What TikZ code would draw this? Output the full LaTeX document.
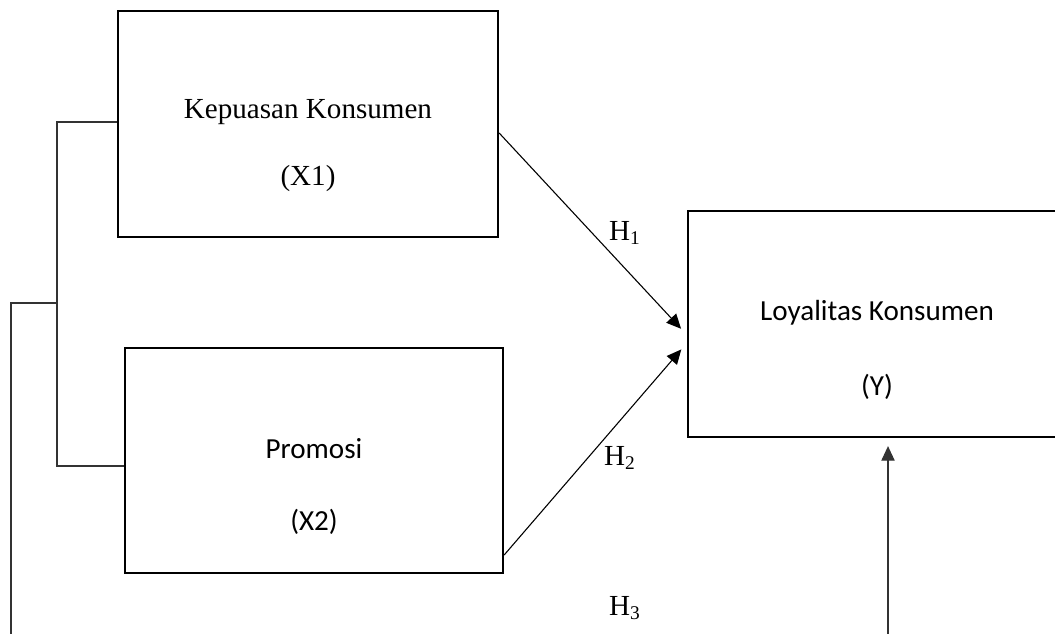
\documentclass[tikz,border=0pt]{standalone}
\usepackage{fontspec}
\setmainfont{Liberation Serif}
\newfontfamily\calibrifont{Carlito}
\usetikzlibrary{arrows.meta}

\begin{document}
\begin{tikzpicture}[x=0.0145cm,y=-0.0145cm,
  kotak/.style={draw,line width=0.9pt,inner sep=0pt},
  garis/.style={line width=0.45pt,black!80},
  panah/.style={line width=0.45pt,-{Triangle[length=6pt,width=5.5pt]},shorten >=3.5pt},
  teksserif/.style={font=\fontsize{12}{14}\selectfont,inner sep=0pt},
  tekssans/.style={font=\calibrifont\fontsize{12}{14}\selectfont,inner sep=0pt}]
\useasboundingbox (0,0) rectangle (1055,633);
\clip (0,0) rectangle (1055,633);

% Koordinaten
\coordinate (kiriatas) at (57,122);
\coordinate (kiribawah) at (57,466);
\coordinate (kiritengah) at (57,303);
\coordinate (kirijauh) at (11,303);
\coordinate (kiriujung) at (11,640);
\coordinate (loyalitasbawah) at (888,640);

% Kaesten
\node[kotak,minimum width=5.51cm,minimum height=3.277cm] (kepuasan) at (308,124) {};
\node[kotak,minimum width=5.481cm,minimum height=3.263cm] (promosi) at (314,460.5) {};
\node[kotak,minimum width=5.481cm,minimum height=3.277cm] (loyalitas) at (877,324) {};

% Texte
\node[teksserif] (kepuasanname) at (308,112) {Kepuasan Konsumen};
\node[teksserif] (kepuasancode) at (308,179) {(X1)};
\node[tekssans] (promosiname) at (314,449) {Promosi};
\node[tekssans] (promosicode) at (314,522) {(X2)};
\node[tekssans] (loyalitasname) at (877,313) {Loyalitas Konsumen};
\node[tekssans] (loyalitascode) at (877,387) {(Y)};

% Pfeile
\draw[panah] (kepuasan.east |- 0,133) -- (loyalitas.west |- 0,335);
\draw[panah] (promosi.east |- 0,555) -- (loyalitas.west |- 0,343);
\draw[panah,black!80,shorten >=3.3pt] (loyalitasbawah) -- (loyalitasbawah |- loyalitas.south);

% Klammer
\draw[garis] (kepuasan.west |- kiriatas) -- (kiriatas) -- (kiribawah) -- (promosi.west |- kiribawah);
\draw[garis] (kiritengah) -- (kirijauh) -- (kiriujung);

% Hypothesen
\node[teksserif] (hsatu) at (625,233) {H\textsubscript{1}};
\node[teksserif] (hdua) at (620,458) {H\textsubscript{2}};
\node[teksserif] (htiga) at (625,608) {H\textsubscript{3}};
\end{tikzpicture}
\end{document}
